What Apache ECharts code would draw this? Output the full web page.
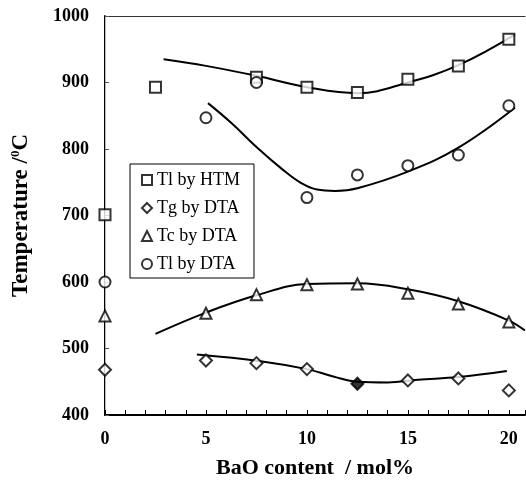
<!DOCTYPE html>
<html>
<head>
<meta charset="utf-8">
<script src="https://cdn.jsdelivr.net/npm/echarts@6/dist/echarts.min.js"></script>
<style>
  html, body { margin: 0; padding: 0; background: #fff; }
  #chart { width: 526px; height: 484px; }
</style>
</head>
<body>
<div id="chart"></div>
<script>
// measured points [BaO mol%, temperature]
const tlHtm = [[0, 701], [2.5, 893], [7.5, 908], [10, 893], [12.5, 885], [15, 905], [17.5, 925], [20, 965]]
const tgDta = [[0, 468], [5, 482], [7.5, 478], [10, 469], [12.5, 447], [15, 452], [17.5, 455], [20, 437]]
const tcDta = [[0, 549], [5, 553], [7.5, 581], [10, 596], [12.5, 597], [15, 583], [17.5, 567], [20, 540]]
const tlDta = [[0, 600], [5, 847], [7.5, 900], [10, 727], [12.5, 761], [15, 775], [17.5, 791], [20, 865]]

// fitted curves
const tlHtmFit = [[2.9, 935], [5, 925], [7.5, 910], [10, 893], [12.5, 884], [15, 900], [17.5, 926], [20.3, 972]]
const tgDtaFit = [[4.55, 491], [7.7, 481], [10, 469], [11.3, 458], [12.5, 450], [14, 449], [15.5, 453], [17.5, 457], [19.9, 466]]
const tcDtaFit = [[2.5, 522], [5, 554], [7.5, 580], [10, 597], [12.5, 598], [15, 589], [17.5, 571], [20, 542], [20.8, 527]]
const tlDtaFit = [[5.1, 869], [6.3, 838], [7.5, 803], [8.8, 769], [9.7, 749], [10.5, 739], [11.4, 737], [12.5, 741], [15, 766], [17.5, 802], [20.3, 862]]

const xTicks = [0, 5, 10, 15, 20]
const yTicks = [400, 500, 600, 700, 800, 900, 1000]

const SERIF = '"Liberation Serif", "DejaVu Serif", serif'
const INK = '#000000'

const chart = echarts.init(document.getElementById('chart'))

function pointSeries(name, symbol, data, size) {
  return {
    name: name,
    type: 'scatter',
    symbol: symbol,
    symbolSize: size,
    data: data,
    z: 3,
    itemStyle: {
      color: '#ffffff',
      borderColor: INK,
      borderWidth: 2
    }
  }
}

function fitSeries(data) {
  return {
    type: 'line',
    data: data,
    smooth: 0.4,
    showSymbol: false,
    silent: true,
    z: 2,
    lineStyle: { color: INK, width: 2 }
  }
}

// the filled diamond at 12.5 mol%
const tgData = tgDta.map(p => p[0] === 12.5 ? { value: p, itemStyle: { color: INK } } : p)

chart.setOption({
  animation: false,
  backgroundColor: '#ffffff',
  textStyle: { fontFamily: SERIF },
  grid: { left: 105, right: 1, top: 16, bottom: 68 },
  legend: {
    left: 130,
    top: 164,
    orient: 'vertical',
    data: ['Tl by HTM', 'Tg by DTA', 'Tc by DTA', 'Tl by DTA'],
    itemWidth: 10,
    itemHeight: 10,
    itemGap: 10,
    padding: [7, 14, 5, 11],
    borderColor: INK,
    borderWidth: 1,
    backgroundColor: '#ffffff',
    textStyle: { fontFamily: SERIF, fontSize: 18, color: INK }
  },
  xAxis: [
    {
      type: 'value',
      min: 0,
      max: 20.8,
      interval: 5,
      name: 'BaO content  / mol%',
      nameLocation: 'middle',
      nameGap: 42,
      nameTextStyle: { fontFamily: SERIF, fontSize: 22, fontWeight: 'bold', color: INK },
      axisLine: { lineStyle: { color: INK, width: 2 } },
      axisTick: { inside: true, length: 5, lineStyle: { color: INK, width: 1 } },
      minorTick: { show: true, splitNumber: 5, length: 5, lineStyle: { color: INK, width: 1 } },
      splitLine: { show: false },
      axisLabel: {
        margin: 15,
        showMaxLabel: false,
        fontFamily: SERIF,
        fontSize: 18,
        fontWeight: 'bold',
        color: INK,
        formatter: v => xTicks.includes(v) ? String(v) : ''
      }
    },
    {
      type: 'value',
      position: 'top',
      min: 0,
      max: 20.8,
      axisLine: { show: true, lineStyle: { color: '#333333', width: 1 } },
      axisTick: { show: false },
      axisLabel: { show: false },
      splitLine: { show: false }
    }
  ],
  yAxis: [
    {
      type: 'value',
      min: 400,
      max: 1000,
      interval: 100,
      name: '{t|Temperature /}{s|0}{t|C}',
      nameLocation: 'middle',
      nameGap: 72,
      nameTextStyle: {
        rich: {
          t: { fontFamily: SERIF, fontSize: 23, fontWeight: 'bold', color: INK },
          s: { fontFamily: SERIF, fontSize: 13, fontWeight: 'bold', color: INK, verticalAlign: 'top', padding: [0, 0, 11, 0] }
        }
      },
      axisLine: { lineStyle: { color: INK, width: 2 } },
      axisTick: { inside: true, length: 4, lineStyle: { color: '#555555', width: 1 } },
      splitLine: { show: false },
      axisLabel: {
        margin: 16,
        fontFamily: SERIF,
        fontSize: 18,
        fontWeight: 'bold',
        color: INK,
        formatter: v => yTicks.includes(v) ? String(v) : ''
      }
    },
    {
      type: 'value',
      position: 'right',
      min: 400,
      max: 1000,
      axisLine: { show: true, lineStyle: { color: '#bbbbbb', width: 1 } },
      axisTick: { show: false },
      axisLabel: { show: false },
      splitLine: { show: false }
    }
  ],
  series: [
    pointSeries('Tl by HTM', 'rect', tlHtm, 11),
    pointSeries('Tg by DTA', 'diamond', tgData, 12),
    pointSeries('Tc by DTA', 'triangle', tcDta, 11),
    pointSeries('Tl by DTA', 'circle', tlDta, 11),
    fitSeries(tlHtmFit),
    fitSeries(tgDtaFit),
    fitSeries(tcDtaFit),
    fitSeries(tlDtaFit)
  ]
})
</script>
</body>
</html>
